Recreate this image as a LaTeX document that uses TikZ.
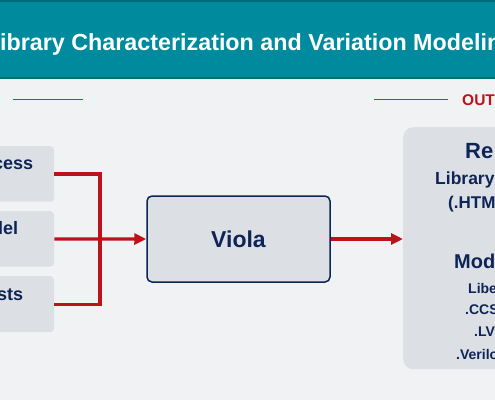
\documentclass[tikz,border=0pt]{standalone}
\usepackage{fontspec}
\setmainfont{Liberation Sans}
\usetikzlibrary{arrows.meta}
\definecolor{bgc}{HTML}{F1F2F4}
\definecolor{teal}{HTML}{008A9E}
\definecolor{tealdark}{HTML}{006A79}
\definecolor{boxfill}{HTML}{DCE0E5}
\definecolor{navy}{HTML}{0E2456}
\definecolor{redc}{HTML}{BE121B}
\definecolor{redl}{HTML}{CC2A33}
\tikzset{
  sidebox/.style={draw=none, fill=boxfill, rounded corners=4pt, inner sep=0pt, anchor=north west},
  mainbox/.style={draw=navy, line width=1.5pt, fill=boxfill, rounded corners=5pt, inner sep=0pt,
     minimum width=183pt, minimum height=86pt, font=\bfseries\fontsize{23}{26}\selectfont, text=navy},
  frag/.style={inner sep=0pt, anchor=base west, text=navy, font=\bfseries},
  conn/.style={draw=redc, line width=3.4pt},
  arr/.style={conn, -{Triangle[length=12pt,width=11pt]}},
  rule/.style={draw=redl, line width=1.8pt},
}
\begin{document}
\begin{tikzpicture}[x=1pt,y=-1pt]
\useasboundingbox (0,0) rectangle (495,400);
\fill[bgc] (0,0) rectangle (495,400);
% header
\fill[teal] (0,0) rectangle (495,78);
\fill[tealdark] (0,0) rectangle (495,2);
\fill[tealdark] (0,76.5) rectangle (495,79);
\node[inner sep=0pt, anchor=base west, text=white, font=\bfseries\fontsize{23.3}{26}\selectfont] (title) at (0,50) {ibrary Characterization and Variation Modelin};
% section rules
\coordinate (r1a) at (13,99.5);
\coordinate (r1b) at (83,99.5);
\draw[rule] (r1a) -- (r1b);
\coordinate (r2a) at (374,99.5);
\coordinate (r2b) at (448,99.5);
\draw[rule] (r2a) -- (r2b);
\node[inner sep=0pt, anchor=base west, text=redc, font=\bfseries\fontsize{15.5}{18}\selectfont] (out) at (462,105) {OUT};
% left boxes
\node[sidebox, minimum width=74pt, minimum height=55.5pt] (b1) at (-20,146) {};
\node[sidebox, minimum width=74pt, minimum height=55.5pt] (b2) at (-20,211) {};
\node[sidebox, minimum width=74pt, minimum height=56pt] (b3) at (-20,276) {};
\node[frag, font=\bfseries\fontsize{18}{20}\selectfont] (t1) at (-7,169) {cess};
\node[frag, font=\bfseries\fontsize{18}{20}\selectfont] (t2) at (-8,234) {del};
\node[frag, font=\bfseries\fontsize{18}{20}\selectfont] (t3) at (-3,300) {sts};
% main box
\node[mainbox] (viola) at (238.5,239) {Viola};
% right box
\node[sidebox, rounded corners=10pt, minimum width=120pt, minimum height=242pt] (res) at (403,127) {};
\node[frag, font=\bfseries\fontsize{22}{24}\selectfont] (rt1) at (465,158) {Re};
\node[frag, font=\bfseries\fontsize{17.5}{20}\selectfont] (rt2) at (435,184) {Library};
\node[frag, font=\bfseries\fontsize{17}{20}\selectfont] (rt3) at (448,208) {(.HTM};
\node[frag, font=\bfseries\fontsize{20}{22}\selectfont] (rt4) at (454,268) {Mode};
\node[frag, font=\bfseries\fontsize{14}{16}\selectfont] (rt5) at (468,293) {Libe};
\node[frag, font=\bfseries\fontsize{14}{16}\selectfont] (rt6) at (465,314) {.CCS};
\node[frag, font=\bfseries\fontsize{14}{16}\selectfont] (rt7) at (474,336) {.LV};
\node[frag, font=\bfseries\fontsize{14}{16}\selectfont] (rt8) at (456,359) {.Verilo};
% connectors
\coordinate (j) at (100,239);
\draw[conn] (b1.east) -| ([yshift=-1.7pt]j);
\draw[conn] (b3.east) -| ([yshift=1.7pt]j);
\draw[arr] (b2.east) -- (viola.west);
\draw[arr] (viola.east) -- (viola.east -| res.west);
\end{tikzpicture}
\end{document}
